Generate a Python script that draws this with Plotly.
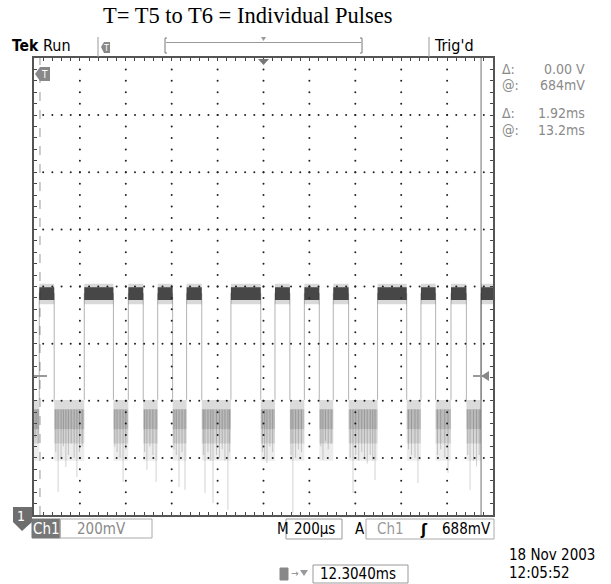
import plotly.graph_objects as go

# ---------------- data ----------------
# time axis: microseconds across the 10-division screen (200 us/div)
# voltage axis: volts, ch1 ground at bottom (200 mV/div, 8 div)
transitions_us = [23, 88, 219, 346, 411, 476, 539, 604, 665, 731, 858, 988,
                  1050, 1115, 1178, 1243, 1304, 1371, 1497, 1624, 1686, 1750,
                  1817, 1884, 1948]          # first state is LOW, alternating
start_state = "low"
high_core = [0.753, 0.797]      # dense part of the high level band (V)
high_fuzz = [0.738, 0.810]      # outer noise envelope of high level (V)
low_levels = [0.190, 0.250, 0.300, 0.370, 0.403]   # low band layer boundaries (V)
edge_low_v = 0.403
edge_high_v = 0.777

# noise streaks in the low segments: time (us) and lowest excursion (V)
streak_t = [5, 12, 18,
            95, 105, 118, 128, 139, 150, 162, 175, 187, 198, 210,
            352, 362, 375, 388, 400,
            482, 492, 505, 518, 532,
            610, 620, 632, 645, 658,
            738, 745, 758, 770, 780, 795, 808, 820, 832, 845, 852,
            995, 1005, 1015, 1028, 1040,
            1120, 1128, 1140, 1152, 1165,
            1250, 1259, 1270, 1282, 1295,
            1378, 1390, 1402, 1415, 1428, 1440, 1452, 1465, 1476, 1486,
            1632, 1645, 1660, 1673,
            1758, 1772, 1790, 1804,
            1890, 1900, 1915, 1928, 1940]
streak_v = [0.27, 0.30, 0.25,
            0.22, 0.081, 0.20, 0.24, 0.168, 0.21, 0.25, 0.20, 0.133, 0.22, 0.24,
            0.24, 0.22, 0.20, 0.116, 0.23,
            0.22, 0.158, 0.24, 0.21, 0.116,
            0.23, 0.21, 0.098, 0.22, 0.088,
            0.21, 0.077, 0.22, 0.19, 0.042, 0.21, 0.20, 0.23, 0.19, 0.018, 0.22,
            0.22, 0.20, 0.182, 0.24, 0.22,
            0.21, 0.007, 0.20, 0.23, 0.22,
            0.24, 0.193, 0.26, 0.23, 0.25,
            0.20, 0.077, 0.21, 0.19, 0.22, 0.20, 0.18, 0.21, 0.19, 0.123,
            0.23, 0.21, 0.20, 0.112,
            0.21, 0.23, 0.20, 0.147,
            0.21, 0.088, 0.19, 0.17, 0.21]

cursor_t = [26, 1948]           # time cursors (1.92 ms apart)
x_range = [0, 2000]
y_range = [0, 1.6]

readouts = [("Δ:", "0.00 V"), ("@:", "684mV"), ("Δ:", "1.92ms"), ("@:", "13.2ms")]
title_text = "T= T5 to T6 = Individual Pulses"

# ---------------- build segments ----------------
bounds = [x_range[0]] + transitions_us + [x_range[1]]
highs, lows = [], []
state = start_state
for a, b in zip(bounds[:-1], bounds[1:]):
    (lows if state == "low" else highs).append((a, b))
    state = "high" if state == "low" else "low"


def rects(segs, lo, hi):
    xs, ys = [], []
    for a, b in segs:
        xs += [a, b, b, a, a, None]
        ys += [lo, lo, hi, hi, lo, None]
    return xs, ys


fig = go.Figure()

# graticule dots
gx, gy = [], []
for k in range(1, 10):
    for j in range(1, 40):
        gx.append(200 * k); gy.append(0.04 * j)
for k in range(1, 8):
    for j in range(1, 50):
        gx.append(40 * j); gy.append(0.2 * k)
fig.add_trace(go.Scatter(x=gx, y=gy, mode="markers",
                         marker=dict(size=2, color="#222"), hoverinfo="skip"))

# cursors
fig.add_trace(go.Scatter(x=[cursor_t[0], cursor_t[0]], y=y_range, mode="lines",
                         line=dict(color="#aaa", width=1.2, dash="dash")))
fig.add_trace(go.Scatter(x=[cursor_t[1], cursor_t[1]], y=y_range, mode="lines",
                         line=dict(color="#888", width=1.2)))

# low level bands (layered density)
layer_alpha = [0.07, 0.17, 0.27, 0.14]
for lo, hi, a in zip(low_levels[:-1], low_levels[1:], layer_alpha):
    x, y = rects(lows, lo, hi)
    fig.add_trace(go.Scatter(x=x, y=y, mode="lines", fill="toself",
                             fillcolor=f"rgba(0,0,0,{a})", line=dict(width=0)))
sx, sy = [], []
for t, v in zip(streak_t, streak_v):
    sx += [t, t, None]; sy += [low_levels[3], v, None]
fig.add_trace(go.Scatter(x=sx, y=sy, mode="lines",
                         line=dict(color="rgba(0,0,0,0.18)", width=1)))

# edges
ex, ey = [], []
for t in transitions_us:
    ex += [t, t, None]; ey += [edge_low_v, edge_high_v, None]
fig.add_trace(go.Scatter(x=ex, y=ey, mode="lines",
                         line=dict(color="rgba(0,0,0,0.3)", width=1)))

# high level bands
x, y = rects(highs, high_fuzz[0], high_fuzz[1])
fig.add_trace(go.Scatter(x=x, y=y, mode="lines", fill="toself",
                         fillcolor="rgba(0,0,0,0.15)", line=dict(width=0)))
x, y = rects(highs, high_core[0], high_core[1])
fig.add_trace(go.Scatter(x=x, y=y, mode="lines", fill="toself",
                         fillcolor="rgba(45,45,45,0.85)", line=dict(width=0)))

# ---------------- screen chrome ----------------
L, R, T, B = 34, 493, 58, 515
W, H = R - L, B - T


def X(px):
    return (px - L) / W


def Y(py):
    return (B - py) / H


NARROW = "Liberation Sans Narrow, DejaVu Sans Condensed, Arial Narrow, sans-serif"
ann = []
shapes = []


def text(px, py, s, size=15, color="black", anchor="left", family=NARROW, bold=False):
    if bold:
        s = "<b>" + s + "</b>"
    ann.append(dict(x=X(px), y=Y(py), xref="paper", yref="paper", text=s,
                    showarrow=False, xanchor=anchor, yanchor="middle",
                    font=dict(family=family, size=size, color=color)))


def box(x0, y0, x1, y1, line="#999", fill=None, width=1):
    shapes.append(dict(type="rect", xref="paper", yref="paper",
                       x0=X(x0), x1=X(x1), y0=Y(y1), y1=Y(y0),
                       line=dict(color=line, width=width),
                       fillcolor=fill if fill else "rgba(0,0,0,0)"))


def line(x0, y0, x1, y1, color="#888", width=1):
    shapes.append(dict(type="line", xref="paper", yref="paper",
                       x0=X(x0), x1=X(x1), y0=Y(y0), y1=Y(y1),
                       line=dict(color=color, width=width)))


def poly(pts, fill="#777"):
    path = "M " + " L ".join(f"{X(a):.5f},{Y(b):.5f}" for a, b in pts) + " Z"
    shapes.append(dict(type="path", xref="paper", yref="paper", path=path,
                       fillcolor=fill, line=dict(width=0)))


# title
text(248, 15, title_text, size=22.5, anchor="center",
     family="Liberation Serif, Times New Roman, serif")
# top bar
text(10, 46, "Tek", size=15.5, bold=True)
text(41, 46, "Run", size=16)
line(98, 37, 98, 57, "#999")
line(429, 37, 429, 57, "#999")
poly([(101, 47), (104, 42), (110, 42), (110, 53), (104, 53)], "#888")
text(106, 48, "T", size=9, color="white", anchor="center")
line(165, 38, 165, 53, "#777"); line(165, 38, 167, 38, "#777"); line(165, 53, 167, 53, "#777")
line(362, 38, 362, 53, "#777"); line(360, 38, 362, 38, "#777"); line(360, 53, 362, 53, "#777")
line(166, 42.5, 361, 42.5, "#999")
poly([(261, 37), (266, 37), (263.5, 41)], "#999")
text(432, 46, "Trig'd", size=16)
# trigger position marker on screen top
poly([(258, 59), (269, 59), (263.5, 65)], "#777")
# trigger marker inside screen
poly([(35, 74), (40, 67), (50, 67), (50, 81), (40, 81)], "#888")
text(44, 74, "T", size=10, color="white", anchor="center")
# left level marker and right trigger arrow
line(34, 376, 47, 376, "#999", 2)
line(473, 376, 484, 376, "#999", 2)
poly([(481, 376), (489, 371), (489, 381)], "#888")
# ground marker "1"
poly([(13, 507), (32, 507), (32, 522), (22, 531), (13, 522)], "#6e6e6e")
text(21, 516, "1", size=14, color="white", anchor="center")
# bottom bar
box(32, 519, 60, 538, line="#777", fill="#777")
text(46, 528.5, "Ch1", size=15, color="white", anchor="center")
box(60, 519, 152, 538, line="#aaa")
text(75, 528.5, "200mV", size=15, color="#8a8a8a")
text(275, 528.5, "M", size=15)
box(286, 519, 342, 539, line="#999")
text(314, 529, "200µs", size=15, anchor="center")
text(353, 528.5, "A", size=15)
box(366, 519, 494, 539, line="#aaa")
text(375, 529, "Ch1", size=15, color="#9a9a9a")
text(418, 529, "ʃ", size=16, bold=True)
text(493, 529, "688mV", size=15, anchor="right")
# bottom row
box(280, 568, 288, 580, line="#888", fill="#888")
text(289, 573, "→", size=10, color="#888")
poly([(300, 570), (308, 570), (304, 576)], "#999")
box(313, 565, 408, 583, line="#999")
text(318, 574, "12.3040ms", size=15)
text(507, 555, "18 Nov 2003", size=15)
text(507, 573, "12:05:52", size=15)
# right readouts
for i, (lab, val) in enumerate(readouts):
    py = [69, 85, 113, 130][i]
    text(500, py, lab, size=14, color="#8a8a8a")
    text(587, py, val, size=14, color="#8a8a8a", anchor="right")

axis_common = dict(showgrid=False, zeroline=False, showline=True, mirror="allticks",
                   linecolor="#555", linewidth=2, ticks="inside", ticklen=3,
                   tickcolor="#444", tickwidth=1, showticklabels=False, fixedrange=True)

fig.update_layout(
    width=611, height=584, autosize=False,
    margin=dict(l=L, r=611 - R, t=T, b=584 - B, pad=0),
    paper_bgcolor="white", plot_bgcolor="white", showlegend=False,
    xaxis=dict(range=x_range, tick0=0, dtick=40, **axis_common),
    yaxis=dict(range=y_range, tick0=0, dtick=0.04, **axis_common),
    annotations=ann, shapes=shapes,
)
fig.write_html("out.html", config={"displayModeBar": False},
               post_script="document.body.style.margin='0';document.body.style.overflow='hidden';")
